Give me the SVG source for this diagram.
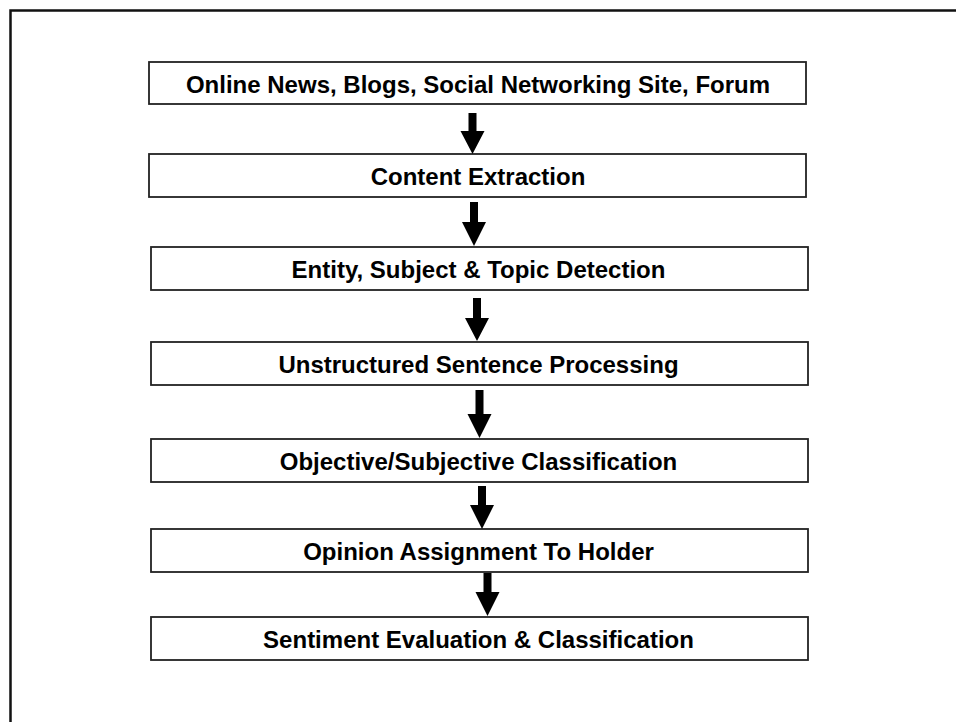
<svg xmlns="http://www.w3.org/2000/svg" width="956" height="722" viewBox="0 0 956 722">
  <defs>
    <style>
      .frame { fill: none; stroke: #111; stroke-width: 2.5; }
      .box { fill: #fff; stroke: #222; stroke-width: 1.8; }
      .label { font-family: "Liberation Sans", Arial, sans-serif; font-weight: bold; font-size: 24px; fill: #000; text-anchor: middle; dominant-baseline: central; }
      .arrow { fill: #000; }
    </style>
  </defs>
  <rect width="956" height="722" fill="#fff"/>
  <!-- outer frame, running off the right and bottom edges -->
  <rect class="frame" x="10.5" y="10.5" width="960" height="730"/>

  <g id="node-sources">
    <rect class="box" x="149" y="62" width="657" height="42"/>
    <text class="label" x="478" y="84">Online News, Blogs, Social Networking Site, Forum</text>
  </g>
  <g id="node-extraction">
    <rect class="box" x="149" y="154" width="657" height="43"/>
    <text class="label" x="478" y="176.5">Content Extraction</text>
  </g>
  <g id="node-detection">
    <rect class="box" x="151" y="247" width="657" height="43"/>
    <text class="label" x="478.5" y="269.5">Entity, Subject &amp; Topic Detection</text>
  </g>
  <g id="node-processing">
    <rect class="box" x="151" y="342" width="657" height="43"/>
    <text class="label" x="478.5" y="364.5">Unstructured Sentence Processing</text>
  </g>
  <g id="node-objsubj">
    <rect class="box" x="151" y="439" width="657" height="43"/>
    <text class="label" x="478.5" y="461.5">Objective/Subjective Classification</text>
  </g>
  <g id="node-holder">
    <rect class="box" x="151" y="529" width="657" height="43"/>
    <text class="label" x="478.5" y="551.5">Opinion Assignment To Holder</text>
  </g>
  <g id="node-sentiment">
    <rect class="box" x="151" y="617" width="657" height="43"/>
    <text class="label" x="478.5" y="639.5">Sentiment Evaluation &amp; Classification</text>
  </g>

  <!-- block arrows: 8px shaft, 24px-wide head -->
  <g id="connectors" class="arrow">
    <path d="M 468.5 113 H 476.5 V 131 H 484.5 L 472.5 154 L 460.5 131 H 468.5 Z"/>
    <path d="M 470 202 H 478 V 222 H 486 L 474 246 L 462 222 H 470 Z"/>
    <path d="M 473 298 H 481 V 318 H 489 L 477 341 L 465 318 H 473 Z"/>
    <path d="M 475.5 390 H 483.5 V 414 H 491.5 L 479.5 438 L 467.5 414 H 475.5 Z"/>
    <path d="M 478 486 H 486 V 505 H 494 L 482 529 L 470 505 H 478 Z"/>
    <path d="M 483.5 573 H 491.5 V 592 H 499.5 L 487.5 616 L 475.5 592 H 483.5 Z"/>
  </g>
</svg>
